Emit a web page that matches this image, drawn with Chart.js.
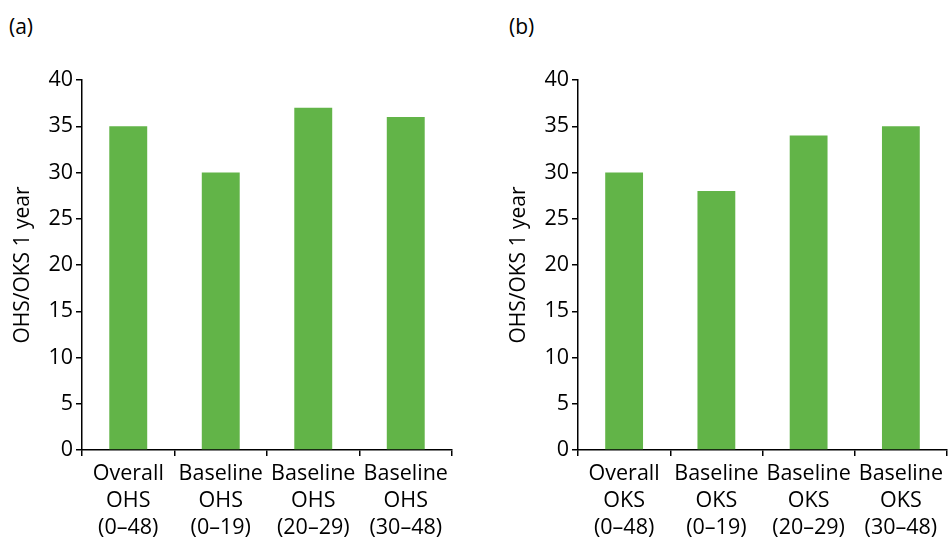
<!DOCTYPE html>
<html>
<head>
<meta charset="utf-8">
<script src="https://cdn.jsdelivr.net/npm/chart.js@4.4.0/dist/chart.umd.min.js"></script>
<style>
  body { margin: 0; background: #fff; width: 949px; height: 539px; position: relative; overflow: hidden; font-family: "Open Sans", sans-serif; }
  .box { position: absolute; top: 0; height: 539px; }
  .tag { position: absolute; top: 12px; font-size: 21px; color: #000; }
</style>
</head>
<body>
<div class="tag" style="left:9px">(a)</div>
<div class="tag" style="left:509px">(b)</div>
<div class="box" style="left:0; width:470px"><canvas id="hipChart"></canvas></div>
<div class="box" style="left:496px; width:453px"><canvas id="kneeChart"></canvas></div>
<script>
// data
const hipLabels = [
    ['Overall', 'OHS', '(0–48)'],
    ['Baseline', 'OHS', '(0–19)'],
    ['Baseline', 'OHS', '(20–29)'],
    ['Baseline', 'OHS', '(30–48)']
];
const hipValues = [35, 30, 37, 36];

const kneeLabels = [
    ['Overall', 'OKS', '(0–48)'],
    ['Baseline', 'OKS', '(0–19)'],
    ['Baseline', 'OKS', '(20–29)'],
    ['Baseline', 'OKS', '(30–48)']
];
const kneeValues = [30, 28, 34, 35];

const yTitle = 'OHS/OKS 1 year';
const barColor = '#62b448';

Chart.defaults.font.family = '"Open Sans", sans-serif';
Chart.defaults.color = '#000';

function makeChart(id, labels, values, padRight) {
    const ctx = document.getElementById(id).getContext('2d');
    return new Chart(ctx, {
        type: 'bar',
        data: {
            labels: labels,
            datasets: [{
                data: values,
                backgroundColor: barColor,
                borderWidth: 0,
                barPercentage: 0.41,
                categoryPercentage: 1
            }]
        },
        options: {
            responsive: true,
            maintainAspectRatio: false,
            animation: false,
            layout: { padding: { top: 80, right: padRight, left: 0, bottom: 0 } },
            plugins: { legend: { display: false }, tooltip: { enabled: false } },
            scales: {
                x: {
                    grid: { drawOnChartArea: false, offset: true, tickLength: 6, color: '#000', lineWidth: 1.5 },
                    border: { color: '#000', width: 1.5 },
                    ticks: { font: { size: 21.5, lineHeight: 1.26 }, padding: 4, maxRotation: 0, autoSkip: false },
                    afterFit: s => { s.height = 89; }
                },
                y: {
                    min: 0,
                    max: 40,
                    grid: { drawOnChartArea: false, tickLength: 6, color: '#000', lineWidth: 1.5 },
                    border: { color: '#000', width: 1.5 },
                    ticks: { stepSize: 5, font: { size: 21.5 }, padding: 3 },
                    title: { display: true, text: yTitle, font: { size: 21 }, padding: { top: 10, bottom: 0 } },
                    afterFit: s => { s.width = 82; }
                }
            }
        }
    });
}

makeChart('hipChart', hipLabels, hipValues, 18);
makeChart('kneeChart', kneeLabels, kneeValues, 2);
</script>
</body>
</html>
